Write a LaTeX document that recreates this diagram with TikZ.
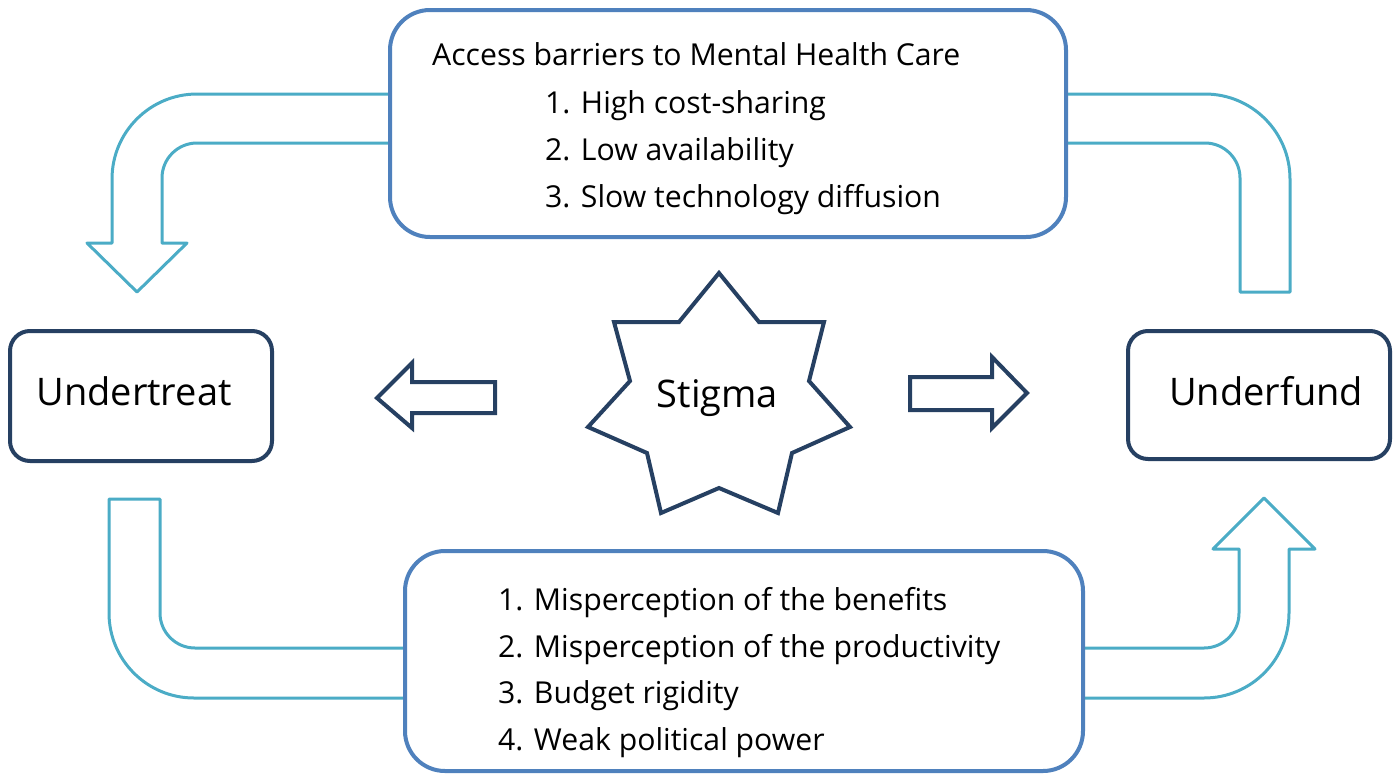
\documentclass[tikz,border=0pt]{standalone}
\usepackage{fontspec}
\setmainfont{Open Sans}
\definecolor{navy}{RGB}{38,64,98}
\definecolor{boxblue}{RGB}{79,129,189}
\definecolor{cyanarrow}{RGB}{75,172,198}
\begin{document}
\begin{tikzpicture}[x=1pt,y=-1pt,
  bent/.style={draw=cyanarrow,line width=3pt,line join=round,fill=white},
  navybox/.style={draw=navy,line width=4pt,rounded corners=20pt,fill=white,inner sep=0pt},
  bluebox/.style={draw=boxblue,line width=4pt,rounded corners=40pt,fill=white,inner sep=0pt},
  navyarrow/.style={draw=navy,line width=4pt,line join=miter,fill=white},
  bigtxt/.style={font=\fontsize{38}{46}\selectfont,inner sep=0pt},
  listtxt/.style={font=\fontsize{30.2}{36}\selectfont,inner sep=0pt,anchor=base west}
]
\useasboundingbox (0,0) rectangle (1400,774);

% bent arrows
\draw[bent] (420,94) [rounded corners=85pt] -- (112,94) [sharp corners] -- (112,243) -- (87,243) -- (137,292) -- (187,243) -- (162,243) [rounded corners=35pt] -- (162,143) [sharp corners] -- (420,143) -- cycle;
\draw[bent] (1040,94) [rounded corners=85pt] -- (1290,94) [sharp corners] -- (1290,292) -- (1240,292) [rounded corners=35pt] -- (1240,143) [sharp corners] -- (1040,143) -- cycle;
\draw[bent] (430,698) [rounded corners=85pt] -- (109,698) [sharp corners] -- (109,499) -- (160,499) [rounded corners=35pt] -- (160,648) [sharp corners] -- (430,648) -- cycle;
\draw[bent] (1060,698) [rounded corners=85pt] -- (1289,698) [sharp corners] -- (1289,549) -- (1315,549) -- (1264,498) -- (1213,549) -- (1239,549) [rounded corners=35pt] -- (1239,648) [sharp corners] -- (1060,648) -- cycle;

% boxes
\node[bluebox,minimum width=676pt,minimum height=227pt] (top) at (728,123.5) {};
\node[bluebox,minimum width=678pt,minimum height=220pt] (bottom) at (744,661) {};
\node[navybox,minimum width=262pt,minimum height=130pt] (undertreat) at (141,396) {};
\node[navybox,minimum width=262pt,minimum height=128pt] (underfund) at (1259,395) {};

\node[bigtxt,anchor=base] (tundertreat) at (134,405) {Undertreat};
\node[bigtxt,anchor=base] (tunderfund) at (1266,405) {Underfund};

% star
\draw[navy,line width=4pt,line join=miter]
  (719,273) -- (679,322) -- (614,322) -- (630,381) -- (588,427) -- (647,453) -- (661,513) -- (719,488) -- (778,513) -- (792,453) -- (850,427) -- (809,381) -- (824,322) -- (759,322) -- cycle;
\node[bigtxt,anchor=base] (stigma) at (717.5,407) {Stigma};

% small arrows
\draw[navyarrow] (377,398) -- (412,363) -- (412,382) -- (495,382) -- (495,413) -- (412,413) -- (412,428) -- cycle;
\draw[navyarrow] (1027,393) -- (992,357) -- (992,377) -- (910,377) -- (910,410) -- (992,410) -- (992,428) -- cycle;

% texts
\node[listtxt] (t0) at (432,65) {Access barriers to Mental Health Care};
\node[listtxt] (t1) at (545,113) {1. High cost-sharing};
\node[listtxt] (t2) at (545,160) {2. Low availability};
\node[listtxt] (t3) at (545,207) {3. Slow technology diffusion};
\node[listtxt] (b1) at (498,610) {1. Misperception of the benefits};
\node[listtxt] (b2) at (498,657) {2. Misperception of the productivity};
\node[listtxt] (b3) at (498,703) {3. Budget rigidity};
\node[listtxt] (b4) at (498,750) {4. Weak political power};
\end{tikzpicture}
\end{document}
